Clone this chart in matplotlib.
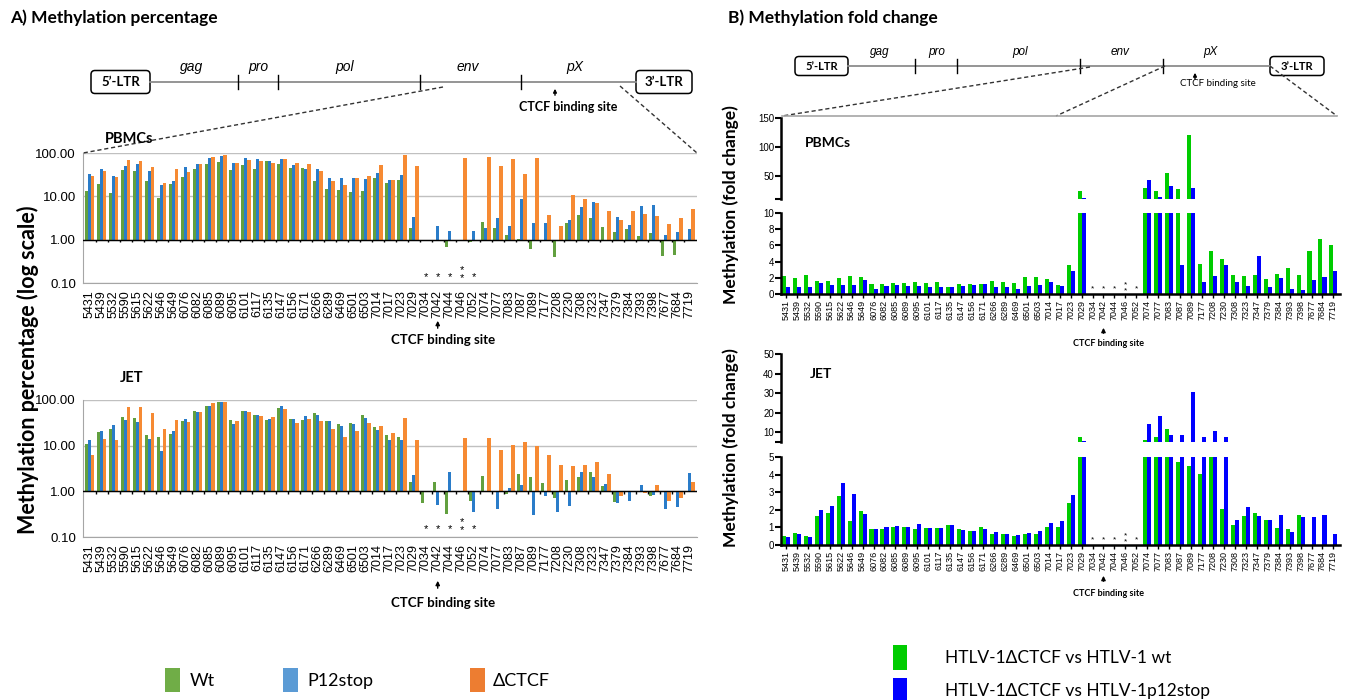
import numpy as np
import matplotlib
matplotlib.use("Agg")
import matplotlib.pyplot as plt
from matplotlib.patches import FancyBboxPatch, Rectangle

nan = np.nan

positions = ["5431", "5439", "5532", "5590", "5615", "5622", "5646", "5649",
             "6076", "6082", "6085", "6089", "6095", "6101", "6117", "6135",
             "6147", "6156", "6171", "6266", "6289", "6469", "6501", "6503",
             "7014", "7017", "7023", "7029", "7034", "7042", "7044", "7046",
             "7052", "7074", "7077", "7083", "7087", "7089", "7177", "7208",
             "7230", "7308", "7323", "7347", "7379", "7384", "7393", "7398",
             "7677", "7684", "7719"]

# A) methylation percentage (log scale), bars start at 1
pbmc_wt = [13, 19, 12, 40, 38, 22, 9, 19, 28, 42, 55, 62, 40, 52, 42, 65, 55, 45,
           45, 23, 15, 14, 12.8, 13.5, 27, 20, 23.6, 1.9, nan, nan, 0.66, nan, 0.89,
           2.6, 1.85, 1.25, 1.03, 0.62, nan, 0.4, 2.4, 3.7, 3.1, 1.95, 1.5, 1.8, 1.2,
           1.45, 0.42, 0.45, nan]
pbmc_p12 = [33, 42, 30, 50, 55, 38, 18, 23, 48, 55, 75, 85, 60, 78, 72, 67, 73, 52,
            42, 42, 27, 27, 26, 25, 34, 23.6, 31, 3.4, nan, 2.1, 1.55, nan, 1.55,
            1.85, 3.2, 2.1, 8.7, 2.45, 2.45, 0.92, 2.9, 5.6, 7.5, 0.97, 3.3, 2.2, 5.9,
            6.4, 1.3, 1.5, 1.8]
pbmc_dctcf = [29, 39, 28, 70, 65, 47, 20, 42, 37, 55, 82, 88, 60, 70, 65, 60, 72, 58,
              55, 38, 23, 18.6, 26, 30, 52, 23.6, 90, 50, nan, nan, nan, 78, nan,
              80, 50, 74, 32, 75, 3.8, 2.1, 10.9, 8.7, 7.0, 4.7, 2.9, 4.5, 3.9,
              3.6, 2.3, 3.1, 5.2]

jet_wt = [10.9, 19.6, 23, 42, 40, 17, 15.8, 18, 35, 58, 75, 89, 37, 56, 48, 37, 67, 38,
          36, 51, 34, 30, 31, 47, 25, 17, 15.8, 1.6, 0.56, 1.6, 0.32, nan, 0.62,
          2.2, nan, 0.87, 2.4, 2.1, 1.5, 0.7, 1.77, 2.1, 2.7, 1.29, 0.57, nan, nan,
          0.8, nan, nan, nan]
jet_p12 = [13.3, 21, 28, 37, 33, 14, 7.8, 21, 38, 54, 75, 92, 30, 56, 48, 38, 75, 38,
           44, 48, 35, 27, 30, 40, 22, 13.5, 13.3, 2.3, nan, 0.51, 2.6, nan, 0.35,
           0.95, 0.41, 1.18, 1.4, 0.31, 0.8, 0.35, 0.47, 2.7, 2.1, 1.45, 0.55, 0.6,
           1.38, 0.85, 0.41, 0.45, 2.5]
jet_dctcf = [6.3, 14, 13.3, 72, 72, 51, 23, 36, 33, 54, 84, 92, 35, 54, 45, 43, 62, 31,
             38, 34, 23, 15.7, 21, 31, 27, 18.6, 40, 13.3, nan, nan, nan, 14.5, nan,
             14.5, 8.0, 10.5, 12.2, 10, 6.3, 3.8, 3.6, 3.8, 4.5, 2.4, 0.8, 1.03, 0.92,
             1.38, 0.62, 0.7, 1.6]

# B) fold change
pbmc_fc_wt = [2.2, 1.93, 2.3, 1.65, 1.6, 2.0, 2.2, 2.05, 1.28, 1.23, 1.4, 1.36, 1.44,
              1.32, 1.52, 0.86, 1.23, 1.19, 1.19, 1.56, 1.48, 1.3, 2.05, 2.05, 1.8,
              1.15, 3.6, 24.4, 0, 0, 0, 0, 0, 28.6, 24.4, 55.5, 26.8, 120.6, 3.66,
              5.3, 4.3, 2.3, 2.2, 2.3, 1.8, 2.47, 3.2, 2.4, 5.3, 6.8, 6.0]
pbmc_fc_p12 = [0.86, 0.86, 0.86, 1.4, 1.1, 1.15, 1.07, 1.73, 0.66, 0.95, 1.07, 1.03,
               1.03, 0.9, 0.86, 0.86, 0.99, 1.1, 1.28, 0.86, 0.86, 0.6, 1.03, 1.1, 1.48,
               0.99, 2.9, 12.4, 0, 0, 0, 0, 0, 42.9, 14, 32.6, 3.6, 29.1, 1.5, 2.26,
               3.6, 1.48, 0.95, 4.7, 0.82, 2.0, 0.62, 0.53, 1.77, 2.1, 2.9]
jet_fc_wt = [0.53, 0.66, 0.51, 1.64, 1.79, 2.77, 1.38, 1.96, 0.9, 0.92, 1.04, 1.0, 0.9,
             0.94, 0.94, 1.13, 0.9, 0.79, 1.0, 0.64, 0.62, 0.51, 0.62, 0.64, 1.04, 1.0,
             2.38, 7.4, 0, 0, 0, 0, 0, 6.0, 7.7, 11.7, 4.7, 4.5, 4.06, 5.2, 2.02, 1.11,
             1.66, 1.81, 1.43, 0.96, 0.92, 1.7, 0, 0, 0]
jet_fc_p12 = [0.47, 0.62, 0.45, 1.98, 2.23, 3.5, 2.87, 1.74, 0.89, 1.04, 1.08, 1.0, 1.17,
              0.96, 0.96, 1.13, 0.85, 0.81, 0.89, 0.72, 0.62, 0.57, 0.70, 0.77, 1.23,
              1.34, 2.83, 5.3, 0, 0, 0, 0, 0, 14.2, 18.5, 8.6, 8.6, 30.7, 7.4, 10.6,
              7.4, 1.42, 2.17, 1.62, 1.43, 1.7, 0.75, 1.6, 1.6, 1.7, 0.64]

star_sites = ["7034", "7042", "7044", "7046", "7052"]
star_counts = [1, 1, 1, 2, 1]
ctcf_site = "7042"

series_a = ["Wt", "P12stop", "\u0394CTCF"]
series_b = ["HTLV-1\u0394CTCF vs HTLV-1 wt", "HTLV-1\u0394CTCF vs HTLV-1p12stop"]
genes = ["gag", "pro", "pol", "env", "pX"]

W, H = 1351, 700
TXT = ["Lato", "DejaVu Sans"]
NUM = "Liberation Sans"
plt.rcParams["font.family"] = TXT

ca = ["#62a03f", "#2a7cc9", "#f68a33"]
ca_leg = ["#70ad47", "#5b9bd5", "#ed7d31"]
cb = ["#00cc00", "#0000ff"]

fig = plt.figure(figsize=(W / 100, H / 100), dpi=100)


def box(l, t, r, b):
    return [l / W, 1 - b / H, (r - l) / W, (b - t) / H]


x = np.arange(len(positions))


def pct_axes(rect, series):
    ax = fig.add_axes(box(*rect))
    ax.set_yscale("log")
    bw = 0.27
    for k, vals in enumerate(series):
        v = np.array(vals, float)
        ok = ~np.isnan(v)
        ax.bar(x[ok] + (k - 1) * bw, v[ok] - 1, bottom=1, width=bw,
               color=ca[k], lw=0, zorder=3)
    ax.set_ylim(0.1, 100)
    ax.set_xlim(-0.55, len(x) - 0.4)
    ax.yaxis.set_minor_locator(plt.NullLocator())
    ax.set_yticks([0.1, 1, 10, 100])
    ax.set_yticklabels(["0.10", "1.00", "10.00", "100.00"], fontsize=9.5, family=NUM)
    ax.tick_params(axis="y", length=0, pad=5)
    ax.set_xticks(x)
    ax.set_xticklabels(positions, rotation=90, fontsize=9, family=NUM)
    ax.tick_params(axis="x", length=0, pad=5)
    ax.grid(axis="y", color="#c0c0c0", lw=1, zorder=0)
    ax.axhline(1, color="black", lw=1, zorder=4)
    ax.vlines(x[:-1] + 0.5, 0.88, 1, color="black", lw=1, zorder=4)
    for s in ("top", "right"):
        ax.spines[s].set_visible(False)
    for s in ("left", "bottom"):
        ax.spines[s].set_color("#a6a6a6")
    return ax


def fc_axes(rt, rb, series, top_lim, top_ticks, bot_ticks):
    at = fig.add_axes(box(*rt))
    ab = fig.add_axes(box(*rb))
    bw = 0.37
    for ax in (at, ab):
        for k, vals in enumerate(series):
            ax.bar(x + (k - 0.5) * bw, vals, width=bw, color=cb[k], lw=0)
        ax.set_xlim(-0.45, len(x) - 0.4)
        ax.spines[["top", "right"]].set_visible(False)
        ax.spines["left"].set_linewidth(1.8)
        ax.tick_params(axis="y", length=4, width=1.5, labelsize=7, pad=1)
        ax.set_facecolor("none")
    at.set_ylim(*top_lim)
    at.set_yticks(top_ticks)
    at.set_yticklabels([""] + [str(t) for t in top_ticks[1:]], family=NUM)
    at.spines["bottom"].set_visible(False)
    at.set_xticks([])
    ab.set_ylim(0, bot_ticks[-1])
    ab.set_yticks(bot_ticks)
    ab.set_yticklabels([str(t) for t in bot_ticks], family=NUM)
    ab.spines["bottom"].set_linewidth(1.8)
    ab.set_xticks(x)
    ab.set_xticklabels(positions, rotation=90, fontsize=6.5, family=NUM)
    ab.tick_params(axis="x", length=3, width=1, pad=1)
    return at, ab


a1 = pct_axes((83, 153, 697, 283), [pbmc_wt, pbmc_p12, pbmc_dctcf])
a2 = pct_axes((83, 400, 697, 537), [jet_wt, jet_p12, jet_dctcf])
b1t, b1b = fc_axes((781, 118, 1340, 199), (781, 213, 1340, 294),
                   [pbmc_fc_wt, pbmc_fc_p12], (10, 150), [10, 50, 100, 150],
                   [0, 2, 4, 6, 8, 10])
b2t, b2b = fc_axes((781, 354, 1340, 442), (781, 457, 1340, 545),
                   [jet_fc_wt, jet_fc_p12], (5, 50), [5, 10, 20, 30, 40, 50],
                   [0, 1, 2, 3, 4, 5])

# stars under the CTCF region (one text per site)
for ax, y1, y2, fs in ((a1, 0.14, 0.16, 8), (a2, 0.15, 0.17, 8),
                       (b1b, 0.6, 0.75, 6), (b2b, 0.28, 0.36, 6)):
    for site, n in zip(star_sites, star_counts):
        i = positions.index(site)
        ax.text(i, y1 if n == 1 else y2, "\n".join(["*"] * n), ha="center",
                va="center", fontsize=fs, family=NUM, linespacing=0.75)

# overlay for annotations in pixel coordinates
ov = fig.add_axes([0, 0, 1, 1])
ov.set_xlim(0, W)
ov.set_ylim(H, 0)
ov.axis("off")


def xpix(ax, i):
    return ax.transData.transform((i, ax.get_ylim()[1]))[0]


ic = positions.index(ctcf_site)
for ax, y0, y1, yt, fs in ((a1, 331, 318, 340, 9.5), (a2, 591, 578, 603, 9.5),
                           (b1b, 336, 325, 343, 6.5), (b2b, 584, 573, 593, 6.5)):
    xp = xpix(ax, ic)
    ov.annotate("", xy=(xp, y1), xytext=(xp, y0),
                arrowprops=dict(arrowstyle="-|>", color="black", lw=1, mutation_scale=6))
    ov.text(xp + 5, yt, "CTCF binding site", ha="center", va="center",
            fontsize=fs, fontweight="bold")

# titles and labels
ov.text(10, 18, "A) Methylation percentage", fontsize=12.5, fontweight="bold", va="center")
ov.text(728, 18, "B) Methylation fold change", fontsize=12.5, fontweight="bold", va="center")
ov.text(105, 139, "PBMCs", fontsize=10.5, fontweight="bold", va="center")
ov.text(120, 378, "JET", fontsize=10.5, fontweight="bold", va="center")
ov.text(805, 143, "PBMCs", fontsize=10, fontweight="bold", va="center")
ov.text(810, 374, "JET", fontsize=10, fontweight="bold", va="center")
ov.text(28, 370, "Methylation percentage (log scale)", rotation=90, fontsize=15.5,
        fontweight="bold", ha="center", va="center")
ov.text(731, 205, "Methylation (fold change)", rotation=90, fontsize=12.5,
        fontweight="bold", ha="center", va="center")
ov.text(731, 448, "Methylation (fold change)", rotation=90, fontsize=12.5,
        fontweight="bold", ha="center", va="center")


# genome diagrams
def genome(ltr5, ltr3, yl, bh, ticks, label_x, arrow_x, fs, ctcf_xy, ctcf_fs, ctcf_w):
    ov.plot([ltr5[1], ltr3[0]], [yl, yl], color="#8c8c8c", lw=1.3)
    for (l, r), lab in ((ltr5, "5\u2019-LTR"), (ltr3, "3\u2019-LTR")):
        ov.add_patch(FancyBboxPatch((l, yl - bh / 2), r - l, bh,
                                    boxstyle="round,pad=0,rounding_size=4",
                                    fc="white", ec="black", lw=1.1))
        ov.text((l + r) / 2, yl, lab, ha="center", va="center", fontsize=fs,
                fontweight="bold")
    for t in ticks:
        ov.plot([t, t], [yl - 7, yl + 7], color="black", lw=1)
    for g, gx in zip(genes, label_x):
        ov.text(gx, yl - 8, g, ha="center", va="bottom", fontsize=fs + 0.5,
                style="italic", family="Liberation Sans")
    ov.annotate("", xy=(arrow_x, yl + 4), xytext=(arrow_x, yl + 16),
                arrowprops=dict(arrowstyle="-|>", color="black", lw=1, mutation_scale=5))
    ov.text(ctcf_xy[0], ctcf_xy[1], "CTCF binding site", ha="center", va="center",
            fontsize=ctcf_fs, fontweight=ctcf_w)


genome((91, 150), (636, 692), 82, 23, [238, 278, 420, 521],
       [192, 258, 345, 468, 575], 555, 9.5, (568, 107), 9, "bold")
genome((795, 848), (1270, 1324), 66, 19, [915, 957, 1080, 1163],
       [880, 937, 1020, 1120, 1210], 1195, 8, (1218, 83), 7, "normal")

dash = dict(color="#333333", lw=1, ls=(0, (3, 2)))
ov.plot([443, 83], [87, 153], **dash)
ov.plot([620, 697], [86, 153], **dash)
ov.plot([1090, 782], [67, 116], **dash)
ov.plot([1165, 1056], [66, 116], **dash)
ov.plot([1270, 1337], [66, 116], **dash)
ov.plot([782, 1337], [116, 116], color="#a6a6a6", lw=1.2)

# legends
for (lx, tx), col, lab in zip(((165, 190), (283, 307), (470, 493)), ca_leg, series_a):
    ov.add_patch(Rectangle((lx, 668), 15, 24, fc=col, ec="none"))
    ov.text(tx, 681, lab, va="center", fontsize=13)
for ly, col, lab in zip((645, 678), cb, series_b):
    ov.add_patch(Rectangle((893, ly), 14, 25, fc=col, ec="none"))
    ov.text(945, ly + 13, lab, va="center", fontsize=12.5)

fig.savefig("out.png", dpi=100)
